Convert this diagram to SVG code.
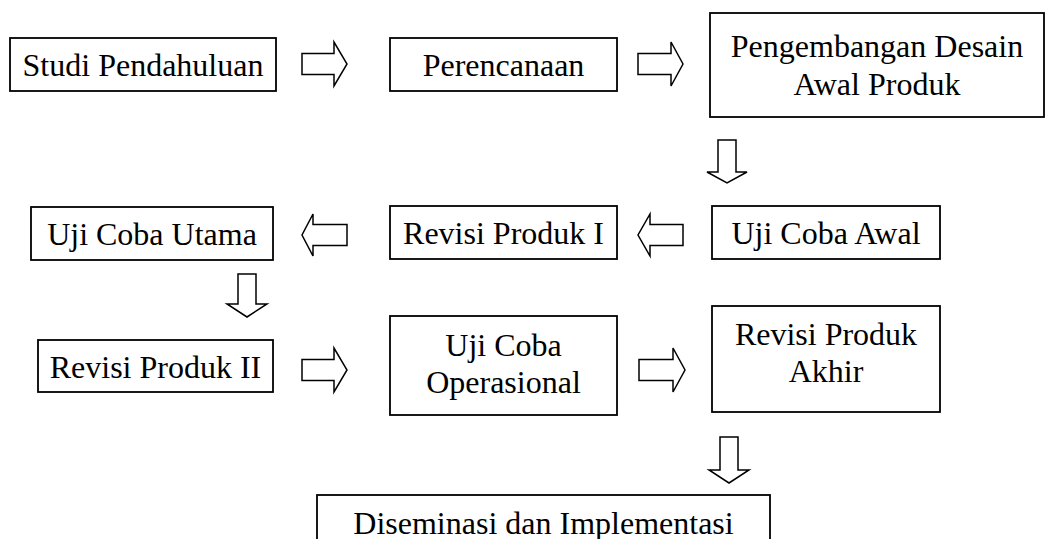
<svg xmlns="http://www.w3.org/2000/svg" width="1046" height="539" viewBox="0 0 1046 539">
<style>
.box{fill:#fff;stroke:#000;stroke-width:1.8}
.arr{fill:#fff;stroke:#000;stroke-width:1.5;stroke-linejoin:miter}
text{font-family:"Liberation Serif","Times New Roman",serif;font-size:32px;fill:#000;text-anchor:middle}
</style>
<rect width="1046" height="539" fill="#fff"/>
<g id="connectors">
<polygon class="arr" points="302,53.5 334,53.5 334,42 347,64 334,86 334,74.5 302,74.5"/>
<polygon class="arr" points="638,53.5 671,53.5 671,42 683,64 671,86 671,74.5 638,74.5"/>
<polygon class="arr" points="718,140 736,140 736,172 747,172 727,183 707,172 718,172"/>
<polygon class="arr" points="683,224.5 650,224.5 650,214 638,235 650,256 650,245.5 683,245.5"/>
<polygon class="arr" points="347,224.5 313,224.5 313,214 302,235 313,256 313,245.5 347,245.5"/>
<polygon class="arr" points="238,274 256,274 256,304 267,304 247,317 227,304 238,304"/>
<polygon class="arr" points="302,359.5 334,359.5 334,348 347,370 334,392 334,380.5 302,380.5"/>
<polygon class="arr" points="639,359.5 673,359.5 673,348 685,370 673,392 673,380.5 639,380.5"/>
<polygon class="arr" points="720,437 738,437 738,470 749,470 729,483 709,470 720,470"/>
</g>
<g id="studi"><rect class="box" x="10" y="38" width="266" height="53"/><text x="143" y="76">Studi Pendahuluan</text></g>
<g id="perencanaan"><rect class="box" x="390" y="38" width="227" height="53"/><text x="503.5" y="76">Perencanaan</text></g>
<g id="pengembangan"><rect class="box" x="710" y="13" width="334" height="104"/><text x="877" y="57">Pengembangan Desain</text><text x="877" y="95">Awal Produk</text></g>
<g id="uji-coba-utama"><rect class="box" x="31" y="207" width="242" height="53"/><text x="152" y="245">Uji Coba Utama</text></g>
<g id="revisi-produk-1"><rect class="box" x="390" y="206" width="227" height="53"/><text x="503.5" y="244">Revisi Produk I</text></g>
<g id="uji-coba-awal"><rect class="box" x="712" y="206" width="228" height="53"/><text x="826" y="244">Uji Coba Awal</text></g>
<g id="revisi-produk-2"><rect class="box" x="38" y="340" width="235" height="52"/><text x="155.5" y="378">Revisi Produk II</text></g>
<g id="uji-coba-operasional"><rect class="box" x="390" y="316" width="227" height="99"/><text x="503.5" y="356">Uji Coba</text><text x="503.5" y="393">Operasional</text></g>
<g id="revisi-produk-akhir"><rect class="box" x="712" y="306" width="228" height="106"/><text x="826" y="345">Revisi Produk</text><text x="826" y="382">Akhir</text></g>
<g id="diseminasi"><rect class="box" x="317" y="495" width="453" height="52"/><text x="543.5" y="534">Diseminasi dan Implementasi</text></g>
</svg>
